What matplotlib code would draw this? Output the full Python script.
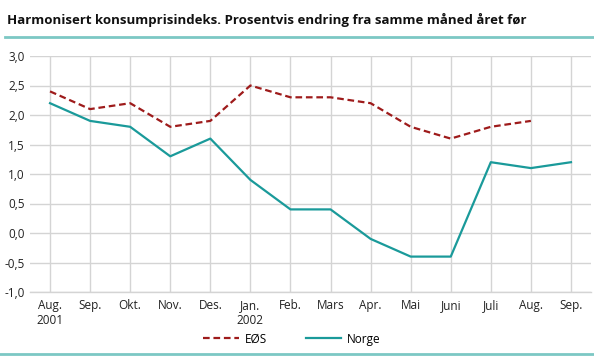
import matplotlib

matplotlib.use("Agg")

import matplotlib.pyplot as plt
from matplotlib.lines import Line2D

MONTHS = ["Aug.\n2001", "Sep.", "Okt.", "Nov.", "Des.", "Jan.\n2002", "Feb.",
          "Mars", "Apr.", "Mai", "Juni", "Juli", "Aug.", "Sep."]
EOS = [2.4, 2.1, 2.2, 1.8, 1.9, 2.5, 2.3, 2.3, 2.2, 1.8, 1.6, 1.8, 1.9]
NORGE = [2.2, 1.9, 1.8, 1.3, 1.6, 0.9, 0.4, 0.4, -0.1, -0.4, -0.4, 1.2, 1.1, 1.2]
YTICKS = [-1.0, -0.5, 0.0, 0.5, 1.0, 1.5, 2.0, 2.5, 3.0]

EOS_COLOR = "#9e1b1b"
NORGE_COLOR = "#1a9a9a"
RULE_COLOR = "#7cc8c4"
GRID_COLOR = "#d4d4d4"

plt.rcParams["font.family"] = ["Open Sans", "DejaVu Sans"]

fig = plt.figure(figsize=(5.94, 3.56), dpi=100)
ax = fig.add_axes([30 / 594, 1 - 292 / 356, 561 / 594, 236 / 356])

x = list(range(len(MONTHS)))
ax.plot(x[:len(EOS)], EOS, color=EOS_COLOR, linewidth=1.6, dashes=(3, 1.7))
ax.plot(x, NORGE, color=NORGE_COLOR, linewidth=1.6)

ax.set_xlim(-0.5, len(MONTHS) - 0.5)
ax.set_ylim(-1.0, 3.0)
ax.set_yticks(YTICKS)
ax.set_yticklabels([f"{v:.1f}".replace(".", ",") for v in YTICKS])
ax.set_xticks(x)
ax.set_xticklabels(MONTHS, linespacing=1.2)
ax.tick_params(axis="both", length=0, labelsize=8.5, colors="#222222")
ax.tick_params(axis="x", pad=5)
ax.tick_params(axis="y", pad=4)
ax.grid(True, color=GRID_COLOR, linewidth=1.0)
ax.set_axisbelow(True)
for side in ["top", "right", "left"]:
    ax.spines[side].set_visible(False)
ax.spines["bottom"].set_color(GRID_COLOR)
ax.spines["bottom"].set_linewidth(1.0)

fig.text(7 / 594, 1 - 20 / 356, "Harmonisert konsumprisindeks. Prosentvis endring fra samme måned året før",
         fontsize=9.5, fontweight="bold", va="center", ha="left", color="#111111")
fig.add_artist(Line2D([5 / 594, 1], [1 - 37 / 356] * 2, color=RULE_COLOR, linewidth=2))
fig.add_artist(Line2D([0, 1], [1 - 354 / 356] * 2, color=RULE_COLOR, linewidth=2))

handles = [
    Line2D([], [], color=EOS_COLOR, linewidth=1.6, dashes=(3, 1.7)),
    Line2D([], [], color=NORGE_COLOR, linewidth=1.6),
]
fig.legend(handles, ["EØS", "Norge"], loc="center", bbox_to_anchor=(292 / 594, 1 - 339 / 356),
           ncol=2, frameon=False, fontsize=8.5, handlelength=3.0, columnspacing=3.3,
           handletextpad=0.5)

fig.savefig("out.png", dpi=100)
